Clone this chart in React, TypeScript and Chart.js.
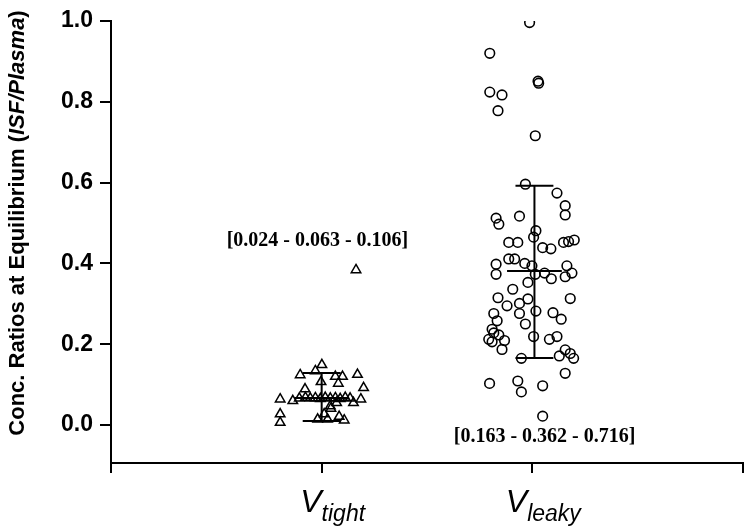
import React, { useEffect, useRef } from 'react';
import { Chart, registerables } from 'chart.js';

Chart.register(...registerables);

// ---- data ----
const categoryNames = ['tight', 'leaky'];
const categoryPositions = [1, 2];
const xTickValues = [0, 1, 2, 3];
const yTickValues = [0, 0.2, 0.4, 0.6, 0.8, 1.0];

const tightX = [1.001, 0.898, 0.97, 1.065, 1.099, 1.079, 1.17, 0.997, 0.921, 1.199, 0.803, 0.863, 1.186, 1.151, 1.071, 1.041, 0.803, 0.803, 1.012, 0.981, 1.028, 1.083, 1.107, 1.044, 0.894, 0.923, 0.946, 0.97, 0.994, 1.017, 1.041, 1.065, 1.088, 1.112, 1.135, 1.163];
const tightY = [0.149, 0.124, 0.134, 0.12, 0.12, 0.103, 0.125, 0.107, 0.089, 0.092, 0.064, 0.06, 0.064, 0.055, 0.055, 0.047, 0.027, 0.006, 0.027, 0.014, 0.014, 0.021, 0.012, 0.041, 0.066, 0.068, 0.066, 0.067, 0.065, 0.068, 0.066, 0.067, 0.065, 0.068, 0.066, 0.384];

const leakyX = [1.987, 1.798, 2.027, 2.03, 1.798, 1.856, 1.837, 2.014, 1.967, 2.117, 2.156, 2.156, 1.828, 1.841, 1.939, 2.017, 2.006, 1.888, 1.931, 2.049, 2.088, 2.148, 2.172, 2.199, 1.888, 1.916, 1.964, 1.998, 1.828, 1.828, 2.014, 2.058, 2.09, 2.164, 2.188, 2.156, 1.979, 1.907, 1.837, 1.979, 2.18, 1.88, 1.939, 2.017, 1.817, 1.833, 1.939, 2.098, 2.137, 1.967, 1.809, 1.817, 1.841, 1.793, 1.809, 1.868, 1.856, 2.006, 2.081, 2.117, 2.156, 2.18, 2.128, 2.196, 1.948, 2.156, 1.797, 1.931, 1.948, 2.049, 2.049];
const leakyY = [0.996, 0.92, 0.851, 0.846, 0.824, 0.817, 0.778, 0.716, 0.596, 0.574, 0.543, 0.52, 0.512, 0.497, 0.517, 0.481, 0.465, 0.452, 0.452, 0.439, 0.436, 0.452, 0.454, 0.458, 0.411, 0.411, 0.4, 0.394, 0.398, 0.373, 0.373, 0.376, 0.362, 0.394, 0.376, 0.367, 0.353, 0.336, 0.315, 0.312, 0.313, 0.295, 0.301, 0.282, 0.276, 0.258, 0.276, 0.278, 0.262, 0.25, 0.237, 0.228, 0.223, 0.212, 0.206, 0.209, 0.187, 0.219, 0.212, 0.219, 0.186, 0.177, 0.171, 0.165, 0.165, 0.128, 0.103, 0.109, 0.082, 0.097, 0.022];

// error bars (mean with lower / upper whisker) per group
const barCenters = [1.0, 2.01];
const barMeans = [0.067, 0.381];
const barLows = [0.01, 0.166];
const barHighs = [0.129, 0.592];
const capHalfWidth = 0.09;
const meanHalfWidth = 0.13;

// bracketed summaries
const annotationTexts = ['[0.024 - 0.063 - 0.106]', '[0.163 - 0.362 - 0.716]'];
const annotationX = [0.98, 2.058];
const annotationY = [0.455, -0.03];

const yAxisTitleMain = 'Conc. Ratios at Equilibrium (';
const yAxisTitleItalic = 'ISF/Plasma';
const yAxisTitleEnd = ')';

const Y_MIN = -0.094;
const Y_MAX = 1.0;

function pts(xs: number[], ys: number[]) {
  return xs.map((x, i) => ({ x, y: ys[i] }));
}

function segment(x1: number, y1: number, x2: number, y2: number) {
  return {
    type: 'scatter' as const,
    data: [{ x: x1, y: y1 }, { x: x2, y: y2 }],
    showLine: true,
    borderColor: '#000',
    borderWidth: 2,
    pointRadius: 0,
    pointHoverRadius: 0,
    order: 0,
  };
}

const textPlugin = {
  id: 'customText',
  afterDraw(chart: any) {
    const ctx = chart.ctx as CanvasRenderingContext2D;
    const xs = chart.scales.x;
    const ys = chart.scales.y;
    ctx.save();
    ctx.fillStyle = '#000';

    // y-axis title with italic part
    const size = 22;
    const fb = `bold ${size}px "Liberation Sans", Arial, sans-serif`;
    const fi = `italic bold ${size}px "Liberation Sans", Arial, sans-serif`;
    ctx.font = fb;
    const w1 = ctx.measureText(yAxisTitleMain).width;
    const w3 = ctx.measureText(yAxisTitleEnd).width;
    ctx.font = fi;
    const w2 = ctx.measureText(yAxisTitleItalic).width;
    const total = w1 + w2 + w3;
    ctx.translate(18, 223);
    ctx.rotate(-Math.PI / 2);
    ctx.textBaseline = 'middle';
    ctx.textAlign = 'left';
    let cx = -total / 2;
    ctx.font = fb;
    ctx.fillText(yAxisTitleMain, cx, 0);
    cx += w1;
    ctx.font = fi;
    ctx.fillText(yAxisTitleItalic, cx, 0);
    cx += w2;
    ctx.font = fb;
    ctx.fillText(yAxisTitleEnd, cx, 0);
    ctx.restore();

    // category labels V_sub
    ctx.save();
    ctx.fillStyle = '#000';
    ctx.textBaseline = 'alphabetic';
    ctx.textAlign = 'left';
    const fV = `italic 32px "Liberation Sans", Arial, sans-serif`;
    const fS = `italic 23px "Liberation Sans", Arial, sans-serif`;
    categoryPositions.forEach((p, i) => {
      const px = xs.getPixelForValue(p);
      ctx.font = fV;
      const wv = ctx.measureText('V').width;
      ctx.font = fS;
      const wsub = ctx.measureText(categoryNames[i]).width;
      const start = px + 11 - (wv + wsub) / 2;
      ctx.font = fV;
      ctx.fillText('V', start, 512);
      ctx.font = fS;
      ctx.fillText(categoryNames[i], start + wv, 521);
    });
    ctx.restore();

    // annotations
    ctx.save();
    ctx.fillStyle = '#000';
    ctx.font = `bold 20px "Liberation Serif", "Times New Roman", serif`;
    ctx.textAlign = 'center';
    ctx.textBaseline = 'middle';
    annotationTexts.forEach((t, i) => {
      ctx.fillText(t, xs.getPixelForValue(annotationX[i]), ys.getPixelForValue(annotationY[i]));
    });
    ctx.restore();
  },
};

export default function App() {
  const ref = useRef<HTMLCanvasElement | null>(null);

  useEffect(() => {
    if (!ref.current) return;
    const datasets: any[] = [
      {
        type: 'scatter',
        label: 'V tight',
        data: pts(tightX, tightY),
        pointStyle: 'triangle',
        pointRadius: 5.5,
        pointBorderWidth: 1.5,
        pointBackgroundColor: 'rgba(0,0,0,0)',
        pointBorderColor: '#000',
        order: 1,
      },
      {
        type: 'scatter',
        label: 'V leaky',
        data: pts(leakyX, leakyY),
        pointStyle: 'circle',
        pointRadius: 4.8,
        pointBorderWidth: 1.6,
        pointBackgroundColor: 'rgba(0,0,0,0)',
        pointBorderColor: '#000',
        order: 1,
      },
    ];
    barCenters.forEach((c, i) => {
      datasets.push(segment(c, barLows[i], c, barHighs[i]));
      datasets.push(segment(c - capHalfWidth, barHighs[i], c + capHalfWidth, barHighs[i]));
      datasets.push(segment(c - capHalfWidth, barLows[i], c + capHalfWidth, barLows[i]));
      datasets.push(segment(c - meanHalfWidth, barMeans[i], c + meanHalfWidth, barMeans[i]));
    });

    const chart = new Chart(ref.current, {
      type: 'scatter',
      data: { datasets },
      options: {
        animation: false,
        responsive: false,
        events: [],
        layout: { padding: { top: 21, right: 5, left: 0, bottom: 0 } },
        plugins: {
          legend: { display: false },
          tooltip: { enabled: false },
        },
        scales: {
          x: {
            type: 'linear',
            min: 0,
            max: 3,
            afterBuildTicks: (s: any) => {
              s.ticks = xTickValues.map((v) => ({ value: v }));
            },
            afterFit: (s: any) => {
              s.height = 66;
            },
            ticks: { callback: () => '', padding: 0 },
            grid: {
              drawOnChartArea: false,
              drawTicks: true,
              tickLength: 10,
              color: '#000',
              lineWidth: 2,
            },
            border: { display: true, color: '#000', width: 2 },
          },
          y: {
            type: 'linear',
            min: Y_MIN,
            max: Y_MAX,
            afterBuildTicks: (s: any) => {
              s.ticks = yTickValues.map((v) => ({ value: v }));
            },
            afterFit: (s: any) => {
              s.width = 111;
            },
            ticks: {
              callback: (v: any) => Number(v).toFixed(1),
              color: '#000',
              padding: 7,
              font: { family: '"Liberation Sans", Arial, sans-serif', size: 23, weight: 'bold' },
            },
            grid: {
              drawOnChartArea: false,
              drawTicks: true,
              tickLength: 11,
              color: '#000',
              lineWidth: 2,
            },
            border: { display: true, color: '#000', width: 2 },
          },
        },
      },
      plugins: [textPlugin],
    } as any);
    return () => chart.destroy();
  }, []);

  return (
    <div style={{ position: 'fixed', left: 0, top: 0, width: 750, height: 529, background: '#fff' }}>
      <canvas ref={ref} width={750} height={529} style={{ display: 'block', width: 750, height: 529 }} />
    </div>
  );
}
